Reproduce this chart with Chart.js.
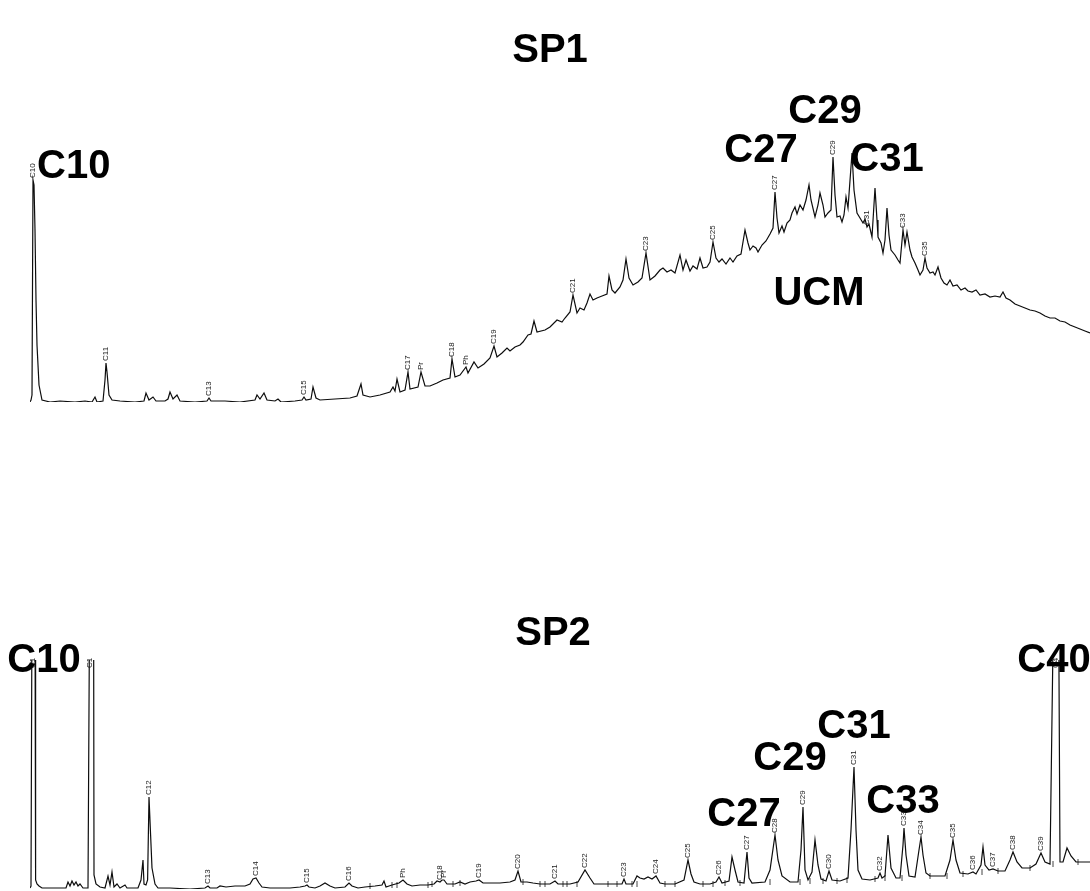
<!DOCTYPE html>
<html>
<head>
<meta charset="utf-8">
<title>SP1 / SP2 chromatograms</title>
<script src="https://cdn.jsdelivr.net/npm/chart.js@4/dist/chart.umd.min.js"></script>
<style>
  html, body { margin: 0; padding: 0; background: #fff; }
  #wrap { position: relative; width: 1090px; height: 891px; overflow: hidden; }
  #wrap canvas { position: absolute; left: 0; }
  #sp1 { top: 0; }
  #sp2 { top: 440px; }
</style>
</head>
<body>
<div id="wrap">
  <canvas id="sp1" width="1090" height="420"></canvas>
  <canvas id="sp2" width="1090" height="451"></canvas>
</div>
<script>
// ---- SP1 trace: retention time (min) and detector response ----
const sp1Time = [
  0, 0.05, 0.1, 0.15, 0.2, 0.25, 0.3, 0.35, 0.45, 0.6,
  1.0, 1.5, 2.25, 2.75, 3.1, 3.25, 3.35, 3.65, 3.75, 3.8,
  3.85, 3.95, 4.1, 4.5, 5.25, 5.7, 5.8, 5.95, 6.15, 6.3,
  6.75, 6.9, 7.0, 7.15, 7.35, 7.5, 8.25, 8.85, 8.95, 9.05,
  9.75, 10.5, 11.25, 11.35, 11.5, 11.7, 11.85, 12.25, 12.4, 12.55,
  13.25, 13.6, 13.7, 13.8, 14.05, 14.15, 14.3, 14.5, 15.25, 16.0,
  16.35, 16.55, 16.65, 17.0, 17.5, 18.0, 18.15, 18.25, 18.35, 18.5,
  18.75, 18.9, 19.0, 19.4, 19.55, 19.75, 20.0, 20.35, 20.65, 21.0,
  21.1, 21.25, 21.5, 21.8, 21.9, 22.2, 22.4, 22.7, 23.0, 23.2,
  23.35, 23.6, 23.85, 24.0, 24.25, 24.5, 24.65, 24.9, 25.05, 25.2,
  25.35, 25.75, 26.0, 26.35, 26.6, 26.75, 27.0, 27.15, 27.35, 27.5,
  27.7, 27.85, 28.0, 28.15, 28.35, 28.6, 28.85, 28.95, 29.1, 29.25,
  29.5, 29.65, 29.8, 29.95, 30.15, 30.4, 30.6, 30.8, 31.0, 31.25,
  31.5, 31.65, 31.85, 32.05, 32.25, 32.5, 32.65, 32.8, 33.0, 33.15,
  33.35, 33.5, 33.65, 33.85, 34.0, 34.15, 34.3, 34.45, 34.6, 34.8,
  35.0, 35.15, 35.35, 35.55, 35.75, 35.9, 36.0, 36.15, 36.3, 36.4,
  36.6, 36.8, 37.0, 37.15, 37.25, 37.35, 37.45, 37.6, 37.7, 37.85,
  38.0, 38.1, 38.25, 38.35, 38.5, 38.65, 38.8, 38.95, 39.05, 39.25,
  39.4, 39.5, 39.65, 39.75, 39.9, 40.05, 40.15, 40.25, 40.35, 40.5,
  40.6, 40.7, 40.8, 40.9, 41.1, 41.2, 41.35, 41.5, 41.65, 41.75,
  41.85, 41.95, 42.1, 42.25, 42.35, 42.4, 42.55, 42.65, 42.75, 42.85,
  42.95, 43.05, 43.25, 43.4, 43.5, 43.65, 43.75, 43.85, 44.0, 44.1,
  44.25, 44.4, 44.5, 44.65, 44.75, 44.85, 45.0, 45.15, 45.25, 45.4,
  45.55, 45.7, 45.85, 46.0, 46.15, 46.35, 46.55, 46.75, 46.9, 47.1,
  47.3, 47.5, 47.75, 48.0, 48.25, 48.5, 48.65, 48.8, 49.0, 49.25,
  49.5, 49.75, 50.0, 50.25, 50.5, 50.75, 51.0, 51.25, 51.5, 51.75,
  52.0, 52.25, 52.5, 52.75, 53.0
];
const sp1Signal = [
  0, 2, 7, 222, 217, 172, 102, 57, 17, 2,
  0, 1, 0, 1, 0, 5, 0, 1, 22, 39,
  30, 7, 2, 1, 0, 1, 9, 2, 5, 1,
  1, 3, 10, 3, 7, 1, 0, 1, 4, 1,
  1, 0, 2, 7, 3, 9, 2, 1, 3, 0,
  1, 2, 5, 2, 3, 15, 4, 2, 3, 4,
  6, 18, 7, 5, 7, 10, 15, 11, 23, 10,
  12, 30, 13, 15, 30, 16, 16, 19, 22, 24,
  43, 25, 27, 35, 29, 40, 34, 38, 44, 56,
  45, 49, 54, 51, 55, 57, 60, 67, 68, 81,
  70, 72, 75, 82, 80, 84, 90, 107, 89, 94,
  92, 99, 108, 102, 104, 106, 108, 126, 112, 109,
  115, 122, 143, 124, 117, 120, 124, 149, 122, 126,
  132, 134, 130, 132, 129, 147, 132, 142, 131, 136,
  133, 144, 134, 135, 140, 160, 144, 140, 143, 138,
  144, 140, 146, 148, 172, 159, 152, 156, 154, 150,
  157, 161, 168, 174, 210, 184, 169, 176, 170, 179,
  182, 189, 195, 188, 197, 192, 202, 217, 202, 185,
  197, 209, 197, 185, 189, 192, 245, 207, 185, 186,
  180, 187, 205, 194, 249, 212, 189, 184, 179, 183,
  175, 178, 165, 214, 182, 165, 159, 149, 162, 194,
  167, 152, 147, 142, 139, 172, 157, 170, 152, 145,
  139, 132, 127, 132, 144, 134, 129, 130, 127, 135,
  124, 119, 117, 122, 116, 117, 112, 114, 111, 110,
  112, 107, 108, 105, 106, 105, 110, 104, 102, 98,
  96, 94, 92, 91, 89, 86, 84, 84, 81, 80,
  77, 75, 73, 71, 69
];
// identified compounds in SP1 (name, retention time)
const sp1PeakNames = ['C10', 'C11', 'C13', 'C15', 'C17', 'Pr', 'C18', 'Ph', 'C19', 'C21', 'C23', 'C25', 'C27', 'C29', 'C31', 'C33', 'C35'];
const sp1PeakTimes = [0.15, 3.8, 8.95, 13.7, 18.9, 19.55, 21.1, 21.8, 23.2, 27.15, 30.8, 34.15, 37.25, 40.15, 41.85, 43.65, 44.75];
// unresolved complex mixture hump
const sp1Hump = { label: 'UCM', time: 39.45, level: 97 };

// ---- SP2 trace ----
const sp2Time = [
  0, 0.05, 0.1, 0.25, 0.28, 0.35, 0.45, 0.6, 1.25, 1.8,
  1.9, 2.0, 2.1, 2.2, 2.3, 2.4, 2.5, 2.65, 2.9, 2.98,
  3.18, 3.2, 3.3, 3.5, 3.75, 3.9, 4.0, 4.1, 4.2, 4.35,
  4.5, 4.75, 4.85, 5.4, 5.55, 5.65, 5.7, 5.8, 5.88, 5.95,
  6.03, 6.1, 6.25, 6.4, 7.0, 8.0, 8.75, 8.9, 9.0, 9.35,
  9.5, 9.8, 10.25, 10.75, 11.0, 11.15, 11.3, 11.45, 11.6, 12.0,
  13.0, 13.5, 13.75, 13.85, 13.95, 14.25, 14.5, 14.75, 15.0, 15.25,
  15.75, 15.95, 16.1, 16.4, 16.75, 17.25, 17.6, 17.7, 17.8, 18.1,
  18.45, 18.65, 18.85, 19.1, 19.5, 19.9, 20.2, 20.35, 20.5, 20.6,
  20.7, 20.85, 21.25, 21.5, 21.75, 22.0, 22.3, 22.45, 22.65, 23.0,
  23.5, 24.0, 24.25, 24.4, 24.55, 24.85, 25.15, 25.5, 26.0, 26.25,
  26.4, 27.0, 27.4, 27.75, 28.0, 28.2, 28.75, 29.25, 29.6, 29.7,
  29.8, 30.15, 30.35, 30.5, 30.7, 30.9, 31.1, 31.3, 31.5, 31.75,
  32.25, 32.7, 32.9, 33.05, 33.2, 33.5, 34.0, 34.3, 34.45, 34.6,
  34.95, 35.1, 35.25, 35.4, 35.7, 35.85, 35.95, 36.1, 36.75, 37.0,
  37.25, 37.4, 37.6, 38.0, 38.4, 38.55, 38.65, 38.75, 38.9, 39.1,
  39.25, 39.4, 39.55, 39.8, 39.95, 40.1, 40.5, 40.9, 41.05, 41.2,
  41.3, 41.4, 41.6, 42.0, 42.4, 42.5, 42.6, 42.75, 42.9, 43.05,
  43.3, 43.5, 43.65, 43.7, 43.8, 43.95, 44.25, 44.45, 44.55, 44.65,
  44.8, 45.0, 45.75, 46.0, 46.15, 46.3, 46.5, 46.9, 47.15, 47.3,
  47.55, 47.65, 47.75, 47.95, 48.15, 48.4, 48.75, 49.0, 49.15, 49.35,
  49.6, 50.0, 50.3, 50.55, 50.75, 51.0, 51.18, 51.43, 51.5, 51.65,
  51.85, 52.05, 52.3, 52.5, 53.0
];
const sp2Signal = [
  1, 3, 289, 289, 9, 5, 3, 1, 1, 1,
  7, 3, 8, 4, 7, 3, 5, 1, 1, 289,
  289, 14, 5, 2, 1, 13, 4, 17, 2, 5,
  1, 4, 1, 1, 9, 29, 5, 4, 9, 92,
  54, 21, 5, 1, 1, 0, 1, 3, 1, 1,
  3, 2, 3, 3, 5, 10, 11, 6, 2, 1,
  1, 2, 3, 4, 2, 1, 3, 6, 3, 1,
  2, 6, 3, 1, 2, 3, 4, 8, 2, 4,
  6, 9, 5, 3, 4, 4, 5, 8, 7, 9,
  9, 5, 5, 7, 5, 7, 8, 9, 6, 6,
  6, 7, 9, 18, 7, 7, 6, 5, 5, 8,
  5, 5, 7, 19, 11, 5, 5, 5, 5, 10,
  5, 5, 13, 11, 10, 12, 10, 13, 6, 5,
  5, 9, 29, 15, 7, 5, 5, 7, 12, 6,
  8, 32, 19, 7, 6, 37, 11, 6, 7, 19,
  54, 29, 13, 7, 7, 39, 82, 19, 9, 17,
  49, 24, 10, 8, 18, 9, 8, 11, 59, 122,
  59, 19, 10, 9, 11, 16, 11, 13, 54, 21,
  11, 11, 44, 61, 34, 13, 12, 39, 52, 34,
  16, 13, 13, 29, 49, 29, 16, 15, 17, 15,
  24, 42, 24, 19, 20, 18, 18, 29, 37, 27,
  21, 21, 25, 36, 27, 25, 289, 289, 27, 27,
  41, 33, 27, 27, 27
];
const sp2PeakNames = ['C10', 'C11', 'C12', 'C13', 'C14', 'C15', 'C16', 'Ph', 'C18', 'Pr', 'C19', 'C20', 'C21', 'C22', 'C23', 'C24', 'C25', 'C26', 'C27', 'C28', 'C29', 'C30', 'C31', 'C32', 'C33', 'C34', 'C35', 'C36', 'C37', 'C38', 'C39', 'C40'];
const sp2PeakTimes = [0.15, 3.0, 5.95, 8.9, 11.3, 13.85, 15.95, 18.65, 20.5, 20.7, 22.45, 24.4, 26.25, 27.75, 29.7, 31.3, 32.9, 34.45, 35.85, 37.25, 38.65, 39.95, 41.2, 42.5, 43.7, 44.55, 46.15, 47.15, 48.15, 49.15, 50.55, 51.3];
// integration event marks along the SP2 baseline
const sp2MarkTimes = [17.0, 18.1, 18.35, 19.9, 20.1, 21.15, 21.5, 24.65, 25.5, 25.75, 26.65, 26.85, 27.35, 28.9, 29.35, 30.1, 30.35, 31.75, 32.25, 33.65, 34.15, 34.75, 35.5, 37.0, 38.5, 39.0, 39.65, 40.35, 40.85, 42.25, 42.75, 43.6, 45.0, 45.85, 46.65, 47.6, 48.4, 50.0, 51.15, 52.4];
const sp2MarkLevels = [3, 4, 4, 4, 5, 5, 6, 7, 5, 5, 5, 5, 5, 5, 5, 5, 5, 5, 5, 5, 5, 6, 6, 7, 7, 8, 8, 8, 9, 10, 11, 11, 13, 13, 15, 17, 18, 21, 25, 27];

// ---- drawing ----
const FONT = '"Liberation Sans", Arial, Helvetica, sans-serif';

// peak names (small, rotated), bold call-outs and the panel heading
const chromLabels = {
  id: 'chromLabels',
  afterDatasetsDraw(chart, _args, o) {
    const { ctx, chartArea: area, scales: { x, y } } = chart;
    const pts = chart.data.datasets[0].data;
    const apexAt = t => pts.reduce((b, p) => Math.abs(p.x - t) < Math.abs(b.x - t) ? p : b, pts[0]).y;
    const anchor = t => {
      const v = apexAt(t);
      const off = v > y.max;
      return { px: x.getPixelForValue(t), py: off ? area.top : y.getPixelForValue(v), off };
    };

    ctx.save();
    ctx.beginPath();
    ctx.rect(0, area.top - 2, chart.width, chart.height);
    ctx.clip();
    ctx.font = '8px ' + FONT;
    ctx.fillStyle = '#1a1a1a';
    ctx.textAlign = 'left';
    ctx.textBaseline = 'middle';
    o.names.forEach((n, i) => {
      const a = anchor(o.times[i]);
      ctx.save();
      ctx.translate(a.px, a.off ? a.py + 8 : a.py - 2);
      ctx.rotate(-Math.PI / 2);
      ctx.fillText(n, 0, 0);
      ctx.restore();
    });
    ctx.restore();

    ctx.save();
    ctx.font = 'bold 40px ' + FONT;
    ctx.fillStyle = '#000';
    ctx.textBaseline = 'alphabetic';
    o.callouts.forEach(c => {
      let px, py, text;
      if (c.hump) {
        px = x.getPixelForValue(c.hump.time);
        py = y.getPixelForValue(c.hump.level);
        text = c.hump.label;
      } else {
        const a = anchor(o.times[o.names.indexOf(c.peak)]);
        px = a.px; py = a.py; text = c.peak;
      }
      ctx.textAlign = c.align || 'center';
      ctx.fillText(text, px + (c.dx || 0), py + (c.dy || 0));
    });
    ctx.textAlign = 'center';
    ctx.fillText(o.heading.text, o.heading.x, o.heading.y);
    ctx.restore();
  }
};

function makeChart(id, times, signal, yMax, padding, labelOpts, marks) {
  const datasets = [{
    data: times.map((t, i) => ({ x: t, y: signal[i] })),
    borderColor: '#0d0d0d',
    borderWidth: 1.2,
    pointRadius: 0,
    tension: 0,
    fill: false
  }];
  if (marks) {
    datasets.push({
      type: 'scatter',
      data: marks.times.map((t, i) => ({ x: t, y: marks.levels[i] })),
      pointStyle: 'line',
      rotation: 90,
      pointRadius: 3,
      borderColor: '#444',
      borderWidth: 1,
      showLine: false
    });
  }
  return new Chart(document.getElementById(id), {
    type: 'line',
    data: { datasets },
    options: {
      responsive: false,
      animation: false,
      devicePixelRatio: 1,
      layout: { padding, autoPadding: false },
      parsing: false,
      scales: {
        x: { type: 'linear', min: 0, max: 53, display: false },
        y: { type: 'linear', min: 0, max: yMax, display: false }
      },
      plugins: {
        legend: { display: false },
        tooltip: { enabled: false },
        chromLabels: labelOpts
      }
    },
    plugins: [chromLabels]
  });
}

makeChart('sp1', sp1Time, sp1Signal, 300,
  { left: 30, right: 0, top: 102, bottom: 18 },
  {
    names: sp1PeakNames,
    times: sp1PeakTimes,
    heading: { text: 'SP1', x: 550, y: 62 },
    callouts: [
      { peak: 'C10', dx: 4, dy: -2, align: 'left' },
      { peak: 'C27', dx: -14, dy: -30 },
      { peak: 'C29', dx: -8, dy: -34 },
      { peak: 'C31', dx: 20, dy: -56 },
      { hump: sp1Hump }
    ]
  });

makeChart('sp2', sp2Time, sp2Signal, 229,
  { left: 30, right: 0, top: 220, bottom: 2 },
  {
    names: sp2PeakNames,
    times: sp2PeakTimes,
    heading: { text: 'SP2', x: 553, y: 205 },
    callouts: [
      { peak: 'C10', dx: 11, dy: 12 },
      { peak: 'C40', dx: -2, dy: 12 },
      { peak: 'C31', dx: 0, dy: -29 },
      { peak: 'C29', dx: -13, dy: -37 },
      { peak: 'C27', dx: -3, dy: -26 },
      { peak: 'C33', dx: -1, dy: -15 }
    ]
  },
  { times: sp2MarkTimes, levels: sp2MarkLevels });
</script>
</body>
</html>
